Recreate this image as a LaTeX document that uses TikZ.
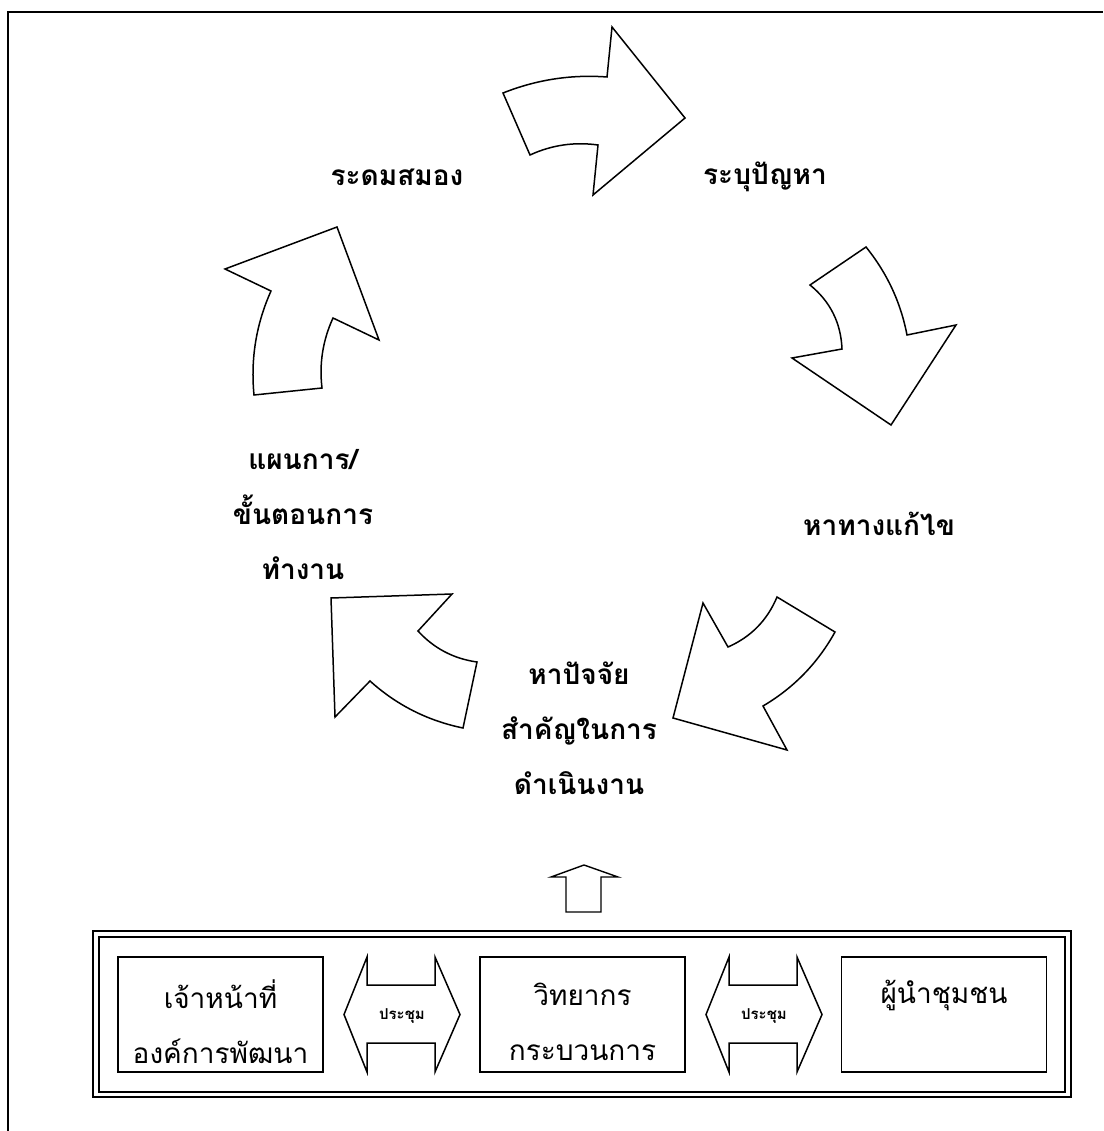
\documentclass[tikz,border=0pt]{standalone}
\usepackage{fontspec}
\newfontfamily\thaifont[Script=Thai]{Loma}
\begin{document}
\begin{tikzpicture}[x=1pt,y=-1pt,
  blockarrow/.style={draw, line width=1.5pt, fill=white, line join=miter},
  lbl/.style={font=\thaifont\bfseries\fontsize{28}{55}\selectfont, align=center, inner sep=0pt},
  boxtxt/.style={font=\thaifont\fontsize{28}{55}\selectfont, align=center, inner sep=0pt},
  meet/.style={font=\thaifont\bfseries\fontsize{15}{18}\selectfont, inner sep=0pt},
  member/.style={draw, line width=1.8pt, minimum width=205pt, minimum height=115pt, inner sep=0pt}]
\useasboundingbox (0,0) rectangle (1103,1131);
\fill[white] (0,0) rectangle (1103,1131);
% outer page frame
\draw[line width=2.4pt] (8,1131) -- (8,12) -- (1103,12);
% cycle arrows
\draw[blockarrow] (503,93) -- (530,155) .. controls (551.7,145) and (574.4,141.7) .. (598,145) -- (593,195) -- (685,118) -- (612,27) -- (607,77) .. controls (571.1,74.3) and (536.5,79.7) .. (503,93) -- cycle;
\draw[blockarrow] (810,285) -- (866,247) .. controls (887,273) and (900.7,302.3) .. (907,335) -- (956,325) -- (891,425) -- (792,358) -- (842,349) .. controls (840.9,322.9) and (830.3,301.5) .. (810,285) -- cycle;
\draw[blockarrow] (777,597) -- (835,632) .. controls (817.7,663.2) and (793.7,687.9) .. (763,706) -- (787,750) -- (673,718) -- (703,603) -- (728,647) .. controls (751,636.9) and (767.3,620.2) .. (777,597) -- cycle;
\draw[blockarrow] (477,662) -- (463,728) .. controls (427.7,720.7) and (396.7,705.1) .. (370,681) -- (335,717) -- (331,598) -- (452,594) -- (418,631) .. controls (433.9,648.4) and (453.6,658.7) .. (477,662) -- cycle;
\draw[blockarrow] (254,395) -- (322,388) .. controls (319.1,363.6) and (322.8,340.3) .. (333,318) -- (379,340) -- (337,227) -- (225,269) -- (271,291) .. controls (256.1,324.2) and (250.5,358.9) .. (254,395) -- cycle;
% cycle labels
\node[lbl] (brain) at (397,177) {ระดมสมอง};
\node[lbl] (problem) at (765,177) {ระบุปัญหา};
\node[lbl] (solve) at (879,524) {หาทางแก้ไข};
\node[lbl] (factor) at (579,728) {หาปัจจัย\\สำคัญในการ\\ดำเนินงาน};
\node[lbl] (plan) at (303,515) {แผนการ/\\ขั้นตอนการ\\ทำงาน};
% up arrow
\draw[blockarrow, line width=1.4pt] (584,865) -- (618,877) -- (601,877) -- (601,912) -- (566,912) -- (566,877) -- (551,877) -- cycle;
% double frame
\draw[line width=2.4pt] (93,931) rectangle (1071,1097);
\draw[line width=1.4pt] (99,937) rectangle (1065,1092);
% member boxes
\node[member] (staff) at (220.5,1014.5) {};
\node[member] (speaker) at (582.5,1014.5) {};
\node[member] (leader) at (944,1014.5) {};
\node[boxtxt] (stafft) at (220.5,1022) {เจ้าหน้าที่\\องค์การพัฒนา};
\node[boxtxt] (speakert) at (582.5,1022) {วิทยากร\\กระบวนการ};
\node[boxtxt] (leadert) at (944,995) {ผู้นำชุมชน};
% double arrows
\draw[blockarrow] (344,1014.5) -- (367,957) -- (367,985) -- (435,985) -- (435,957) -- (460,1014.5) -- (435,1072) -- (435,1043) -- (367,1043) -- (367,1072) -- cycle;
\draw[blockarrow] (706,1014.5) -- (729,957) -- (729,985) -- (797,985) -- (797,957) -- (822,1014.5) -- (797,1072) -- (797,1043) -- (729,1043) -- (729,1072) -- cycle;
\node[meet] (meet1) at (402,1016) {ประชุม};
\node[meet] (meet2) at (764,1016) {ประชุม};
\end{tikzpicture}
\end{document}
